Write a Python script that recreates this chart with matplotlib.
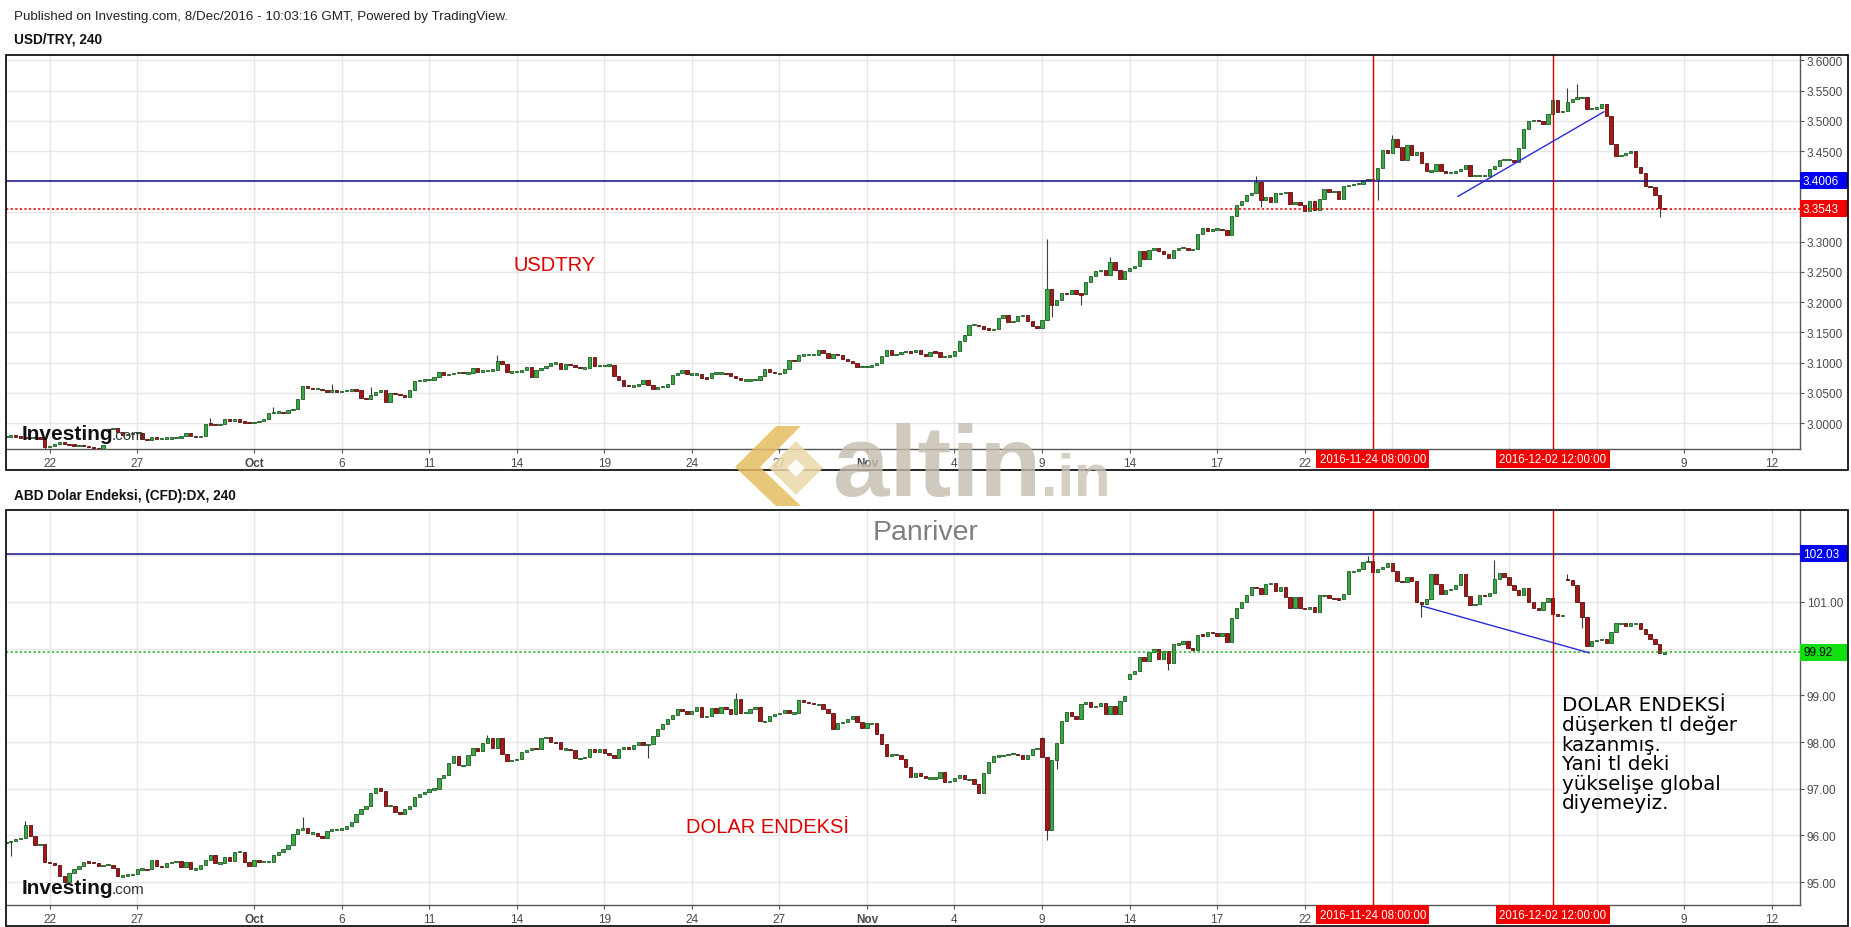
import datetime as dt
import matplotlib
matplotlib.use("Agg")
import matplotlib.pyplot as plt
import matplotlib.transforms as mtransforms
from matplotlib.patches import Rectangle, Polygon

plt.rcParams['font.family'] = ['Liberation Sans', 'DejaVu Sans']

# trading days shown on the chart (4h bars, 6 per day)
days = [
    "2016-09-20", "2016-09-21", "2016-09-22", "2016-09-23",
    "2016-09-26", "2016-09-27", "2016-09-28", "2016-09-29", "2016-09-30",
    "2016-10-03", "2016-10-04", "2016-10-05", "2016-10-06", "2016-10-07",
    "2016-10-10", "2016-10-11", "2016-10-12", "2016-10-13", "2016-10-14",
    "2016-10-17", "2016-10-18", "2016-10-19", "2016-10-20", "2016-10-21",
    "2016-10-24", "2016-10-25", "2016-10-26", "2016-10-27", "2016-10-28",
    "2016-10-31", "2016-11-01", "2016-11-02", "2016-11-03", "2016-11-04",
    "2016-11-07", "2016-11-08", "2016-11-09", "2016-11-10", "2016-11-11",
    "2016-11-14", "2016-11-15", "2016-11-16", "2016-11-17", "2016-11-18",
    "2016-11-21", "2016-11-22", "2016-11-23", "2016-11-24", "2016-11-25",
    "2016-11-28", "2016-11-29", "2016-11-30", "2016-12-01", "2016-12-02",
    "2016-12-05", "2016-12-06", "2016-12-07", "2016-12-08",
]

# USD/TRY 4h closes, one row per day (first row starts at 12:00)
usdtry = [
    [2.978, 2.979, 2.978],
    [2.976, 2.975, 2.976, 2.977, 2.974, 2.960],
    [2.962, 2.965, 2.968, 2.966, 2.964, 2.963],
    [2.963, 2.962, 2.960, 2.958, 2.957, 2.964],
    [2.990, 2.992, 2.985, 2.980, 2.982, 2.984],
    [2.984, 2.973, 2.972, 2.977, 2.974, 2.975],
    [2.975, 2.975, 2.976, 2.979, 2.983, 2.978],
    [2.977, 2.979, 2.999, 2.998, 2.996, 2.999],
    [3.006, 3.004, 3.006, 3.002, 3.001, 3.000],
    [3.001, 3.003, 3.006, 3.017, 3.018, 3.018],
    [3.017, 3.021, 3.024, 3.040, 3.061, 3.058],
    [3.057, 3.057, 3.054, 3.052, 3.054, 3.051],
    [3.053, 3.054, 3.055, 3.054, 3.042, 3.039],
    [3.047, 3.052, 3.055, 3.035, 3.050, 3.048],
    [3.046, 3.043, 3.055, 3.070, 3.070, 3.072],
    [3.072, 3.076, 3.085, 3.080, 3.081, 3.083],
    [3.084, 3.083, 3.083, 3.091, 3.085, 3.087],
    [3.087, 3.088, 3.103, 3.098, 3.084, 3.085],
    [3.085, 3.087, 3.092, 3.076, 3.088, 3.091],
    [3.094, 3.099, 3.100, 3.089, 3.098, 3.096],
    [3.092, 3.091, 3.091, 3.110, 3.095, 3.095],
    [3.096, 3.096, 3.078, 3.072, 3.062, 3.061],
    [3.061, 3.064, 3.071, 3.063, 3.057, 3.060],
    [3.060, 3.065, 3.079, 3.083, 3.087, 3.081],
    [3.081, 3.081, 3.075, 3.074, 3.083, 3.083],
    [3.083, 3.082, 3.078, 3.075, 3.071, 3.071],
    [3.071, 3.072, 3.078, 3.089, 3.085, 3.082],
    [3.082, 3.090, 3.105, 3.103, 3.112, 3.113],
    [3.113, 3.113, 3.121, 3.116, 3.107, 3.115],
    [3.112, 3.106, 3.103, 3.100, 3.093, 3.093],
    [3.093, 3.096, 3.100, 3.111, 3.120, 3.112],
    [3.115, 3.118, 3.118, 3.117, 3.121, 3.114],
    [3.111, 3.118, 3.117, 3.110, 3.111, 3.111],
    [3.119, 3.136, 3.145, 3.162, 3.163, 3.160],
    [3.156, 3.155, 3.155, 3.173, 3.178, 3.167],
    [3.169, 3.177, 3.178, 3.169, 3.160, 3.157],
    [3.171, 3.222, 3.195, 3.204, 3.215, 3.213],
    [3.220, 3.214, 3.213, 3.234, 3.244, 3.252],
    [3.253, 3.245, 3.266, 3.253, 3.239, 3.251],
    [3.257, 3.260, 3.285, 3.272, 3.286, 3.289],
    [3.285, 3.279, 3.273, 3.286, 3.290, 3.290],
    [3.286, 3.288, 3.312, 3.323, 3.317, 3.321],
    [3.321, 3.320, 3.311, 3.343, 3.360, 3.367],
    [3.377, 3.380, 3.398, 3.369, 3.374, 3.366],
    [3.380, 3.380, 3.383, 3.363, 3.365, 3.360],
    [3.351, 3.367, 3.352, 3.371, 3.388, 3.383],
    [3.384, 3.371, 3.393, 3.394, 3.396, 3.396],
    [3.402, 3.403, 3.403, 3.422, 3.451, 3.446],
    [3.470, 3.457, 3.435, 3.460, 3.443, 3.449],
    [3.431, 3.417, 3.417, 3.429, 3.417, 3.414],
    [3.414, 3.417, 3.421, 3.427, 3.409, 3.409],
    [3.409, 3.409, 3.421, 3.425, 3.436, 3.436],
    [3.436, 3.432, 3.455, 3.487, 3.499, 3.502],
    [3.500, 3.495, 3.511, 3.535, 3.515, 3.517],
    [3.531, 3.536, 3.539, 3.539, 3.519, 3.521],
    [3.522, 3.528, 3.508, 3.462, 3.442, 3.444],
    [3.446, 3.450, 3.424, 3.414, 3.392, 3.390],
    [3.378, 3.355, 3.3543],
]

# Dollar index (DX CFD) 4h closes
dx = [
    [95.85, 95.88, 95.93],
    [95.95, 96.22, 95.98, 95.79, 95.81, 95.42],
    [95.41, 95.37, 95.12, 95.00, 95.19, 95.28],
    [95.35, 95.44, 95.42, 95.41, 95.35, 95.37],
    [95.37, 95.30, 95.12, 95.14, 95.16, 95.18],
    [95.28, 95.28, 95.27, 95.48, 95.34, 95.32],
    [95.41, 95.42, 95.46, 95.32, 95.44, 95.28],
    [95.28, 95.37, 95.48, 95.57, 95.41, 95.41],
    [95.54, 95.45, 95.65, 95.65, 95.42, 95.35],
    [95.47, 95.44, 95.44, 95.44, 95.57, 95.64],
    [95.70, 95.80, 96.04, 96.13, 96.15, 96.05],
    [96.05, 95.98, 95.95, 96.09, 96.13, 96.13],
    [96.14, 96.20, 96.28, 96.45, 96.56, 96.64],
    [96.91, 97.02, 96.95, 96.64, 96.64, 96.50],
    [96.46, 96.56, 96.63, 96.83, 96.88, 96.93],
    [96.99, 97.00, 97.22, 97.29, 97.56, 97.70],
    [97.50, 97.50, 97.72, 97.87, 97.81, 97.98],
    [98.08, 97.88, 98.08, 97.74, 97.59, 97.61],
    [97.63, 97.79, 97.82, 97.88, 97.85, 98.08],
    [98.10, 98.00, 97.99, 97.85, 97.85, 97.83],
    [97.65, 97.65, 97.69, 97.85, 97.79, 97.86],
    [97.76, 97.72, 97.66, 97.86, 97.90, 97.86],
    [97.93, 97.99, 97.93, 97.96, 98.13, 98.28],
    [98.38, 98.49, 98.57, 98.70, 98.67, 98.60],
    [98.67, 98.75, 98.54, 98.56, 98.72, 98.62],
    [98.74, 98.70, 98.61, 98.93, 98.63, 98.63],
    [98.70, 98.75, 98.44, 98.45, 98.56, 98.60],
    [98.62, 98.69, 98.62, 98.63, 98.91, 98.86],
    [98.84, 98.81, 98.81, 98.70, 98.63, 98.27],
    [98.40, 98.43, 98.50, 98.56, 98.42, 98.29],
    [98.40, 98.40, 98.17, 97.96, 97.71, 97.73],
    [97.73, 97.63, 97.47, 97.25, 97.34, 97.27],
    [97.23, 97.23, 97.23, 97.35, 97.14, 97.16],
    [97.23, 97.30, 97.20, 97.20, 97.11, 96.91],
    [97.34, 97.57, 97.70, 97.70, 97.73, 97.75],
    [97.75, 97.73, 97.64, 97.73, 97.86, 97.86],
    [97.68, 96.12, 97.62, 97.97, 98.45, 98.65],
    [98.55, 98.50, 98.81, 98.85, 98.74, 98.77],
    [98.83, 98.59, 98.77, 98.59, 98.87, 98.99],
    [99.46, 99.53, 99.82, 99.74, 99.92, 99.99],
    [99.77, 99.96, 99.69, 100.10, 100.10, 100.17],
    [100.01, 99.98, 100.30, 100.28, 100.35, 100.33],
    [100.28, 100.34, 100.14, 100.66, 100.87, 100.99],
    [101.16, 101.32, 101.29, 101.18, 101.39, 101.41],
    [101.23, 101.32, 101.11, 100.87, 101.11, 100.87],
    [100.84, 100.89, 100.79, 101.14, 101.14, 101.09],
    [101.07, 101.06, 101.18, 101.66, 101.66, 101.71],
    [101.86, 101.87, 101.64, 101.71, 101.75, 101.84],
    [101.66, 101.45, 101.43, 101.54, 101.45, 100.99],
    [100.96, 101.07, 101.59, 101.39, 101.18, 101.25],
    [101.27, 101.36, 101.59, 101.13, 100.94, 100.96],
    [101.16, 101.13, 101.20, 101.50, 101.61, 101.54],
    [101.36, 101.25, 101.14, 101.29, 100.99, 100.87],
    [100.82, 101.01, 101.09, 100.75, 100.71, 100.72],
    [101.46, 101.36, 101.01, 100.68, 100.06, 100.16],
    [100.18, 100.21, 100.13, 100.36, 100.54, 100.54],
    [100.49, 100.54, 100.54, 100.43, 100.32, 100.20],
    [100.11, 99.90, 99.92],
]

# opening gaps and visible wicks, keyed by (day, hour)
usdtry_gap_open = {("2016-09-26", 0): 2.986}
usdtry_high = {
    ("2016-09-29", 12): 3.008, ("2016-10-03", 16): 3.026, ("2016-10-05", 16): 3.064,
    ("2016-10-07", 0): 3.059, ("2016-10-13", 8): 3.112, ("2016-11-09", 4): 3.305,
    ("2016-11-11", 8): 3.274, ("2016-11-18", 8): 3.408, ("2016-11-25", 0): 3.476,
    ("2016-12-02", 12): 3.545, ("2016-12-05", 0): 3.555, ("2016-12-05", 8): 3.561,
}
usdtry_low = {
    ("2016-09-21", 20): 2.955, ("2016-11-09", 8): 3.176, ("2016-11-10", 8): 3.196,
    ("2016-11-18", 12): 3.358, ("2016-11-24", 12): 3.369, ("2016-12-08", 4): 3.341,
}
dx_gap_open = {("2016-11-09", 0): 98.09, ("2016-11-14", 0): 99.35, ("2016-12-05", 0): 101.50}
dx_high = {
    ("2016-09-21", 4): 96.30, ("2016-10-04", 16): 96.39, ("2016-10-13", 0): 98.15,
    ("2016-10-25", 12): 99.06, ("2016-11-09", 0): 98.10, ("2016-11-24", 4): 101.98,
    ("2016-11-30", 12): 101.90, ("2016-12-05", 0): 101.60,
}
dx_low = {
    ("2016-09-20", 16): 95.55, ("2016-10-20", 12): 97.65, ("2016-11-09", 4): 95.90,
    ("2016-11-09", 12): 97.42, ("2016-11-15", 8): 99.55, ("2016-11-28", 0): 100.68,
    ("2016-12-05", 12): 100.44,
}

# axis labels
tick_days = ["2016-09-22", "2016-09-27", "2016-10-03", "2016-10-06", "2016-10-11",
             "2016-10-14", "2016-10-19", "2016-10-24", "2016-10-27", "2016-11-01",
             "2016-11-04", "2016-11-09", "2016-11-14", "2016-11-17", "2016-11-22",
             "2016-11-25", "2016-12-01", "2016-12-06", "2016-12-09", "2016-12-12"]
tick_text = ["22", "27", "Oct", "6", "11", "14", "19", "24", "27", "Nov",
             "4", "9", "14", "17", "22", "25", "Dec", "6", "9", "12"]
usdtry_ticks = [3.00, 3.05, 3.10, 3.15, 3.20, 3.25, 3.30, 3.35, 3.40, 3.45, 3.50, 3.55, 3.60]
usdtry_tick_hidden = [3.35, 3.40]
dx_ticks = [95, 96, 97, 98, 99, 100, 101, 102]
dx_tick_hidden = [100, 102]

# drawings
marker_times = [("2016-11-24", 8), ("2016-12-02", 12)]
usdtry_levels = [3.4006, 3.3543]
dx_levels = [102.03, 99.92]
usdtry_trend = [("2016-11-29", 6, 3.375), ("2016-12-06", 6, 3.515)]
dx_trend = [("2016-11-28", 1, 100.91), ("2016-12-05", 18, 99.91)]

W, H = 1851, 928
UP_FC, UP_EC = '#3aa844', '#1d5a22'
DN_FC, DN_EC = '#a31818', '#5a0c0c'


def xpos(day, hour=0):
    if day in days:
        i = days.index(day)
    else:
        last = dt.date.fromisoformat(days[-1])
        i = len(days) - 1 + (dt.date.fromisoformat(day) - last).days
    return i + hour / 24


def draw_candles(ax, rows, gaps, highs, lows, min_body):
    xs, bottoms, heights, fcs, ecs = [], [], [], [], []
    wx, wlo, whi = [], [], []
    prev = None
    for i, (day, row) in enumerate(zip(days, rows)):
        start = 24 - 4 * len(row) if i == 0 else 0
        for j, close in enumerate(row):
            hour = start + 4 * j
            key = (day, hour)
            op = gaps.get(key, close if prev is None else prev)
            lo_b, hi_b = min(op, close), max(op, close)
            if hi_b - lo_b < min_body:
                mid = (hi_b + lo_b) / 2
                b, h = mid - min_body / 2, min_body
            else:
                b, h = lo_b, hi_b - lo_b
            x = xpos(day, hour)
            xs.append(x)
            bottoms.append(b)
            heights.append(h)
            up = close >= op
            fcs.append(UP_FC if up else DN_FC)
            ecs.append(UP_EC if up else DN_EC)
            hi = highs.get(key, hi_b)
            lo = lows.get(key, lo_b)
            if hi > hi_b or lo < lo_b:
                wx.append(x)
                wlo.append(lo)
                whi.append(hi)
            prev = close
    ax.vlines(wx, wlo, whi, color='#3c3c3c', lw=0.8, zorder=2)
    ax.bar(xs, heights, bottom=bottoms, width=0.115, color=fcs,
           edgecolor=ecs, linewidth=0.6, zorder=3)


def price_tag(ax, y, text, fc, tc, span):
    trans = mtransforms.blended_transform_factory(ax.transAxes, ax.transData)
    h = span * 17 / 394
    ax.add_patch(Rectangle((1.0, y - h / 2), 48 / 1794, h, transform=trans,
                           fc=fc, ec='none', clip_on=False, zorder=9))
    ax.text(1.0 + 3 / 1794, y, text, transform=trans, ha='left', va='center',
            fontsize=8.5, color=tc, clip_on=False, zorder=10)


def style_axes(ax, ylim, ticks, hidden, fmt):
    ax.set_xlim(0.504, 61.97)
    ax.set_ylim(*ylim)
    for s in ('top', 'left'):
        ax.spines[s].set_visible(False)
    for s in ('right', 'bottom'):
        ax.spines[s].set_color('#555555')
        ax.spines[s].set_linewidth(1)
    ax.yaxis.tick_right()
    ax.set_yticks(ticks)
    ax.set_yticklabels(['' if any(abs(t - hd) < 1e-9 for hd in hidden) else fmt % t
                        for t in ticks])
    ax.set_xticks([xpos(d) for d in tick_days])
    ax.set_xticklabels(tick_text)
    for lab in ax.get_xticklabels():
        if lab.get_text() in ('Oct', 'Nov', 'Dec'):
            lab.set_fontweight('bold')
    ax.tick_params(axis='both', colors='#555555', labelcolor='#4a4a4a',
                   labelsize=8.5, length=3, width=0.8)
    ax.tick_params(axis='y', pad=2)
    ax.tick_params(axis='x', pad=3)
    ax.grid(True, color='#e6e6e6', lw=1)
    ax.set_axisbelow(True)


def markers(ax):
    for day, hour in marker_times:
        x = xpos(day, hour)
        ax.axvline(x, color='#d00000', lw=1, zorder=4)
        ax.annotate(f"{day} {hour:02d}:00:00", xy=(x, 0), xycoords=ax.get_xaxis_transform(),
                    xytext=(0, -3), textcoords='offset points', ha='center', va='top',
                    fontsize=8.3, color='white', annotation_clip=False, zorder=10,
                    bbox=dict(boxstyle='square,pad=0.28', fc='#f00000', ec='none'))


def fig_box(left, top, right, bottom):
    return [left / W, 1 - bottom / H, (right - left) / W, (bottom - top) / H]


fig = plt.figure(figsize=(W / 100, H / 100), dpi=100)
fig.patch.set_facecolor('white')

ax1 = fig.add_axes(fig_box(6, 55.5, 1800, 450))
ax2 = fig.add_axes(fig_box(6, 511, 1800, 905.5))

# --- USD/TRY panel
style_axes(ax1, (2.957, 3.6098), usdtry_ticks, usdtry_tick_hidden, '%.4f')
span1 = 3.6098 - 2.957
draw_candles(ax1, usdtry, usdtry_gap_open, usdtry_high, usdtry_low, span1 * 1.3 / 394)
ax1.axhline(usdtry_levels[0], color='#14148c', lw=1.1, zorder=4)
ax1.axhline(usdtry_levels[1], color='#e00000', lw=1.1, ls=(0, (1.5, 1.5)), zorder=4)
ax1.plot([xpos(d, h) for d, h, v in usdtry_trend], [v for d, h, v in usdtry_trend],
         color='#2b2bdc', lw=1, zorder=5)
markers(ax1)
price_tag(ax1, usdtry_levels[0], '%.4f' % usdtry_levels[0], '#0000f0', 'white', span1)
price_tag(ax1, usdtry_levels[1], '%.4f' % usdtry_levels[1], '#f00000', 'white', span1)
ax1.text(19.3, 3.262, 'USDTRY', color='#e00000', fontsize=14.5, ha='center', va='center')

# --- DX panel
style_axes(ax2, (94.52, 102.97), dx_ticks, dx_tick_hidden, '%.2f')
span2 = 102.97 - 94.52
draw_candles(ax2, dx, dx_gap_open, dx_high, dx_low, span2 * 1.3 / 394)
ax2.axhline(dx_levels[0], color='#14148c', lw=1.1, zorder=4)
ax2.axhline(dx_levels[1], color='#22b022', lw=1.1, ls=(0, (1.5, 1.5)), zorder=4)
ax2.plot([xpos(d, h) for d, h, v in dx_trend], [v for d, h, v in dx_trend],
         color='#2b2bdc', lw=1, zorder=5)
markers(ax2)
price_tag(ax2, dx_levels[0], '%.2f' % dx_levels[0], '#0000f0', 'white', span2)
price_tag(ax2, dx_levels[1], '%.2f' % dx_levels[1], '#10e010', 'black', span2)
ax2.text(26.6, 96.19, 'DOLAR ENDEKSİ', color='#e00000', fontsize=14.5, ha='center', va='center')
ax2.text(53.8, 99.0, 'DOLAR ENDEKSİ\ndüşerken tl değer\nkazanmış.\nYani tl deki\n'
         'yükselişe global\ndiyemeyiz.', family=['DejaVu Sans'], fontsize=14.3,
         color='black', ha='left', va='top', linespacing=1.03, zorder=6)

# Investing.com logos
for ax, yb in ((ax1, 0.025), (ax2, 0.029)):
    ax.text(16 / 1794, yb, 'Investing', transform=ax.transAxes, fontsize=15,
            weight='bold', color='#111111', va='baseline', zorder=6)
    ax.text(106 / 1794, yb, '.com', transform=ax.transAxes, fontsize=11,
            color='#333333', va='baseline', zorder=6)

# outer frames
for top, bottom in ((55.5, 471), (511, 927)):
    fig.add_artist(Rectangle((6 / W, 1 - bottom / H), (1848 - 6) / W, (bottom - top) / H,
                             transform=fig.transFigure, fill=False, ec='black', lw=1.2))

# headers
fig.text(14 / W, 1 - 17 / H, 'Published on Investing.com, 8/Dec/2016 - 10:03:16 GMT, '
         'Powered by TradingView.', fontsize=9.6, color='#222222', va='center')
fig.text(14 / W, 1 - 40 / H, 'USD/TRY, 240', fontsize=9.8, weight='bold',
         color='#111111', va='center')
fig.text(14 / W, 1 - 496 / H, 'ABD Dolar Endeksi, (CFD):DX, 240', fontsize=9.8,
         weight='bold', color='#111111', va='center')

# watermarks
px = mtransforms.Affine2D().scale(1 / W, -1 / H).translate(0, 1) + fig.transFigure
fig.add_artist(Polygon([(735, 468), (776, 427), (801, 427), (760, 468), (801, 507), (776, 507)],
                       closed=True, transform=px, fc='#e4bd62', ec='none', alpha=0.85, zorder=20))
fig.add_artist(Polygon([(796, 442), (823, 469), (796, 496), (769, 469)],
                       closed=True, transform=px, fc='#ecd9a8', ec='none', alpha=0.85, zorder=20))
fig.add_artist(Polygon([(796, 460), (805, 469), (796, 478), (787, 469)],
                       closed=True, transform=px, fc='white', ec='none', alpha=0.9, zorder=21))
fig.text(833 / W, 1 - 496 / H, 'altin', fontsize=73, weight='bold', color='#c4bdad',
         alpha=0.8, va='baseline', ha='left', zorder=20)
fig.text(1041 / W, 1 - 496 / H, '.in', fontsize=43, weight='bold', color='#cbc4b5',
         alpha=0.8, va='baseline', ha='left', zorder=20)
fig.text(926 / W, 1 - 533 / H, 'Panriver', fontsize=20.5, color='#7f7f7f',
         ha='center', va='center', zorder=20)

fig.savefig('out.png', dpi=100, facecolor='white')
